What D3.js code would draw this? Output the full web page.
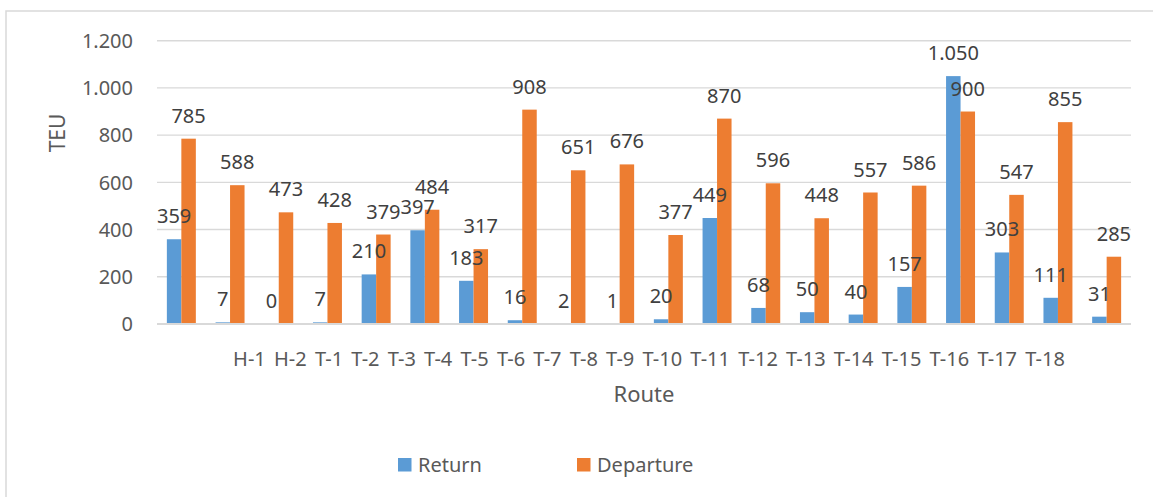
<!DOCTYPE html>
<html>
<head>
<meta charset="utf-8">
<script src="https://cdn.jsdelivr.net/npm/d3@7/dist/d3.min.js"></script>
<style>
  html, body { margin: 0; padding: 0; background: #fff; }
  svg { display: block; font-family: "Noto Sans", "Open Sans", sans-serif; }
</style>
</head>
<body>
<svg id="chart" width="1153" height="497"></svg>
<script>
// Route categories along the x axis
const routes = ["H-1", "H-2", "T-1", "T-2", "T-3", "T-4", "T-5", "T-6", "T-7", "T-8",
                "T-9", "T-10", "T-11", "T-12", "T-13", "T-14", "T-15", "T-16", "T-17", "T-18"];
// TEU per route, one value per bar group
const returnTEU    = [359, 7, 0, 7, 210, 397, 183, 16, 2, 1, 20, 449, 68, 50, 40, 157, 1050, 303, 111, 31];
const departureTEU = [785, 588, 473, 428, 379, 484, 317, 908, 651, 676, 377, 870, 596, 448, 557, 586, 900, 547, 855, 285];
const seriesNames  = ["Return", "Departure"];
const yTicks       = [0, 200, 400, 600, 800, 1000, 1200];

const colors = { Return: "#5B9BD5", Departure: "#ED7D31" };
const fmt = d3.formatLocale({ decimal: ",", thousands: ".", grouping: [3], currency: ["", ""] }).format(",d");

const svg = d3.select("#chart");
const plotLeft = 157, plotRight = 1131, plotTop = 40.7, plotBottom = 324;

// outer chart frame
svg.append("rect")
  .attr("x", 6).attr("y", 11).attr("width", 1160).attr("height", 500)
  .attr("fill", "none").attr("stroke", "#d9d9d9").attr("stroke-width", 1.5);

const y = d3.scaleLinear().domain([0, 1200]).range([plotBottom, plotTop]);
const x = d3.scaleBand().domain(d3.range(returnTEU.length)).range([plotLeft, plotRight])
  .paddingInner(0.405).paddingOuter(0.2025);
const xs = d3.scaleBand().domain(seriesNames).range([0, x.bandwidth()]);

// horizontal gridlines
svg.append("g").selectAll("line").data(yTicks.filter(t => t > 0)).join("line")
  .attr("x1", plotLeft).attr("x2", plotRight)
  .attr("y1", d => y(d)).attr("y2", d => y(d))
  .attr("stroke", "#d9d9d9").attr("stroke-width", 1.4);

// y tick labels
svg.append("g").selectAll("text").data(yTicks).join("text")
  .attr("x", 133).attr("y", d => y(d)).attr("dy", "0.36em")
  .attr("text-anchor", "end").attr("font-size", 20).attr("fill", "#595959")
  .text(d => fmt(d));

const rows = returnTEU.map((r, i) => ({ i, Return: r, Departure: departureTEU[i] }));

// bars
const groups = svg.append("g").selectAll("g").data(rows).join("g")
  .attr("transform", d => `translate(${x(d.i)},0)`);
groups.selectAll("rect").data(d => seriesNames.map(k => ({ key: k, value: d[k] }))).join("rect")
  .attr("x", d => xs(d.key)).attr("width", xs.bandwidth())
  .attr("y", d => y(d.value)).attr("height", d => y(0) - y(d.value))
  .attr("fill", d => colors[d.key]);

// category axis baseline
svg.append("line").attr("x1", plotLeft).attr("x2", plotRight).attr("y1", y(0)).attr("y2", y(0))
  .attr("stroke", "#d9d9d9").attr("stroke-width", 2);

// value labels above each bar
groups.selectAll("text").data(d => seriesNames.map(k => ({ key: k, value: d[k] }))).join("text")
  .attr("x", d => xs(d.key) + xs.bandwidth() / 2)
  .attr("y", d => y(d.value) - 16)
  .attr("text-anchor", "middle").attr("font-size", 20).attr("fill", "#404040")
  .text(d => fmt(d.value));

// route labels, set as one line beneath the axis
svg.append("text")
  .attr("x", (plotLeft + plotRight) / 2 + 5).attr("y", 366)
  .attr("text-anchor", "middle").attr("font-size", 20).attr("fill", "#595959")
  .attr("word-spacing", "3px")
  .text(routes.join(" "));

// axis titles
svg.append("text")
  .attr("transform", "translate(65,133) rotate(-90)")
  .attr("text-anchor", "middle").attr("font-size", 21).attr("fill", "#595959")
  .text("TEU");
svg.append("text")
  .attr("x", 644).attr("y", 402)
  .attr("text-anchor", "middle").attr("font-size", 22).attr("fill", "#595959")
  .text("Route");

// legend
const legendX = [398, 577];
const legend = svg.append("g").selectAll("g").data(seriesNames).join("g")
  .attr("transform", (d, i) => `translate(${legendX[i]},458)`);
legend.append("rect").attr("width", 13.5).attr("height", 13.5).attr("fill", d => colors[d]);
legend.append("text").attr("x", 20).attr("y", 13.5)
  .attr("font-size", 20).attr("fill", "#595959").text(d => d);
</script>
</body>
</html>
